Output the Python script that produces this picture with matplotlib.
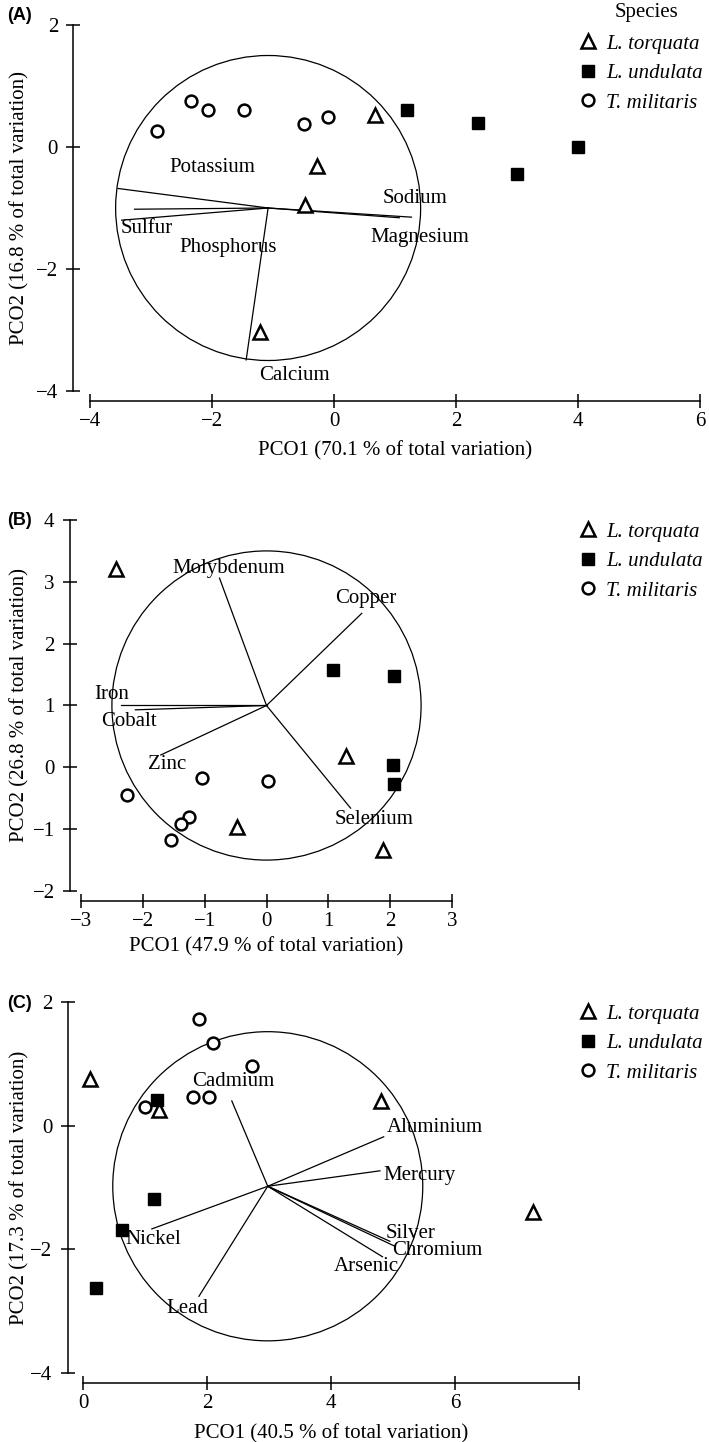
import matplotlib.pyplot as plt
from matplotlib.patches import Circle

plt.rcParams['font.family'] = ['Liberation Serif', 'DejaVu Serif']
plt.rcParams['font.size'] = 15
plt.rcParams['axes.unicode_minus'] = True

W, H = 709, 1442
FS = 15

species = ['L. torquata', 'L. undulata', 'T. militaris']

# ---- panel A : macro elements
a_lt_x = [0.68, -0.28, -0.47, -1.22]
a_lt_y = [0.53, -0.31, -0.95, -3.04]
a_lu_x = [1.19, 2.36, 4.0, 3.0]
a_lu_y = [0.60, 0.39, 0.0, -0.45]
a_tm_x = [-2.90, -2.35, -2.06, -1.47, -0.50, -0.10]
a_tm_y = [0.26, 0.75, 0.61, 0.60, 0.38, 0.50]
a_center = (-1.08, -1.0)
a_vec_names = ['Potassium', 'Phosphorus', 'Sulfur', 'Calcium', 'Sodium', 'Magnesium']
a_vec_x = [-3.54, -3.27, -3.48, -1.44, 1.27, 1.07]
a_vec_y = [-0.68, -1.02, -1.20, -3.49, -1.15, -1.16]

# ---- panel B : trace elements
b_lt_x = [-2.44, 1.29, -0.47, 1.88]
b_lt_y = [3.20, 0.18, -0.96, -1.34]
b_lu_x = [1.08, 2.07, 2.04, 2.06]
b_lu_y = [1.58, 1.48, 0.04, -0.27]
b_tm_x = [-2.25, -1.05, 0.02, -1.26, -1.38, -1.54]
b_tm_y = [-0.44, -0.18, -0.22, -0.80, -0.92, -1.18]
b_center = (0.0, 1.0)
b_vec_names = ['Molybdenum', 'Copper', 'Iron', 'Cobalt', 'Zinc', 'Selenium']
b_vec_x = [-0.76, 1.54, -2.36, -2.12, -1.71, 1.36]
b_vec_y = [3.06, 2.49, 1.0, 0.93, 0.20, -0.66]

# ---- panel C : heavy metals
c_lt_x = [0.12, 1.22, 4.81, 7.25]
c_lt_y = [0.76, 0.25, 0.40, -1.40]
c_lu_x = [1.20, 1.14, 0.63, 0.21]
c_lu_y = [0.41, -1.18, -1.68, -2.63]
c_tm_x = [1.87, 2.09, 2.73, 1.78, 2.03, 1.00]
c_tm_y = [1.72, 1.33, 0.97, 0.47, 0.46, 0.30]
c_center = (2.98, -0.98)
c_vec_names = ['Cadmium', 'Aluminium', 'Mercury', 'Silver', 'Chromium', 'Arsenic', 'Nickel', 'Lead']
c_vec_x = [2.40, 4.85, 4.79, 4.95, 5.03, 4.83, 1.11, 1.87]
c_vec_y = [0.40, -0.18, -0.73, -1.87, -1.95, -2.12, -1.67, -2.76]

# label positions (data coords) for the vector names
a_lab = [(-1.99, -0.34), (-1.74, -1.64), (-3.07, -1.34), (-0.65, -3.74), (1.33, -0.84), (1.41, -1.49)]
b_lab = [(-0.61, 3.21), (1.60, 2.73), (-2.51, 1.17), (-2.23, 0.74), (-1.61, 0.05), (1.74, -0.84)]
c_lab = [(2.43, 0.71), (5.68, -0.03), (5.43, -0.80), (5.28, -1.74), (5.72, -2.02),
         (4.57, -2.28), (1.13, -1.84), (1.69, -2.95)]

fig = plt.figure(figsize=(W / 100, H / 100), dpi=100)


def make_axes(left, top, right, bottom):
    return fig.add_axes([left / W, 1 - bottom / H, (right - left) / W, (bottom - top) / H])


def panel(ax, lt, lu, tm, center, names, vx, vy, labs, xlim, ylim, xticks, yticks,
          xlab, ylab, letter, letter_y, legend_top, xlab_top, xticklabels=None, yoff=8, xoff=6):
    ax.add_patch(Circle(center, 2.5, fill=False, ec='black', lw=0.9))
    for nm, ex, ey, (lx, ly) in zip(names, vx, vy, labs):
        ax.plot([center[0], ex], [center[1], ey], color='black', lw=0.9)
        ax.text(lx, ly, nm, ha='center', va='center', fontsize=FS)
    h1, = ax.plot(lt[0], lt[1], '^', ms=9.5, mfc='white', mec='black', mew=1.8,
                  ls='none', clip_on=False)
    h2, = ax.plot(lu[0], lu[1], 's', ms=8, mfc='black', mec='black', ls='none', clip_on=False)
    h3, = ax.plot(tm[0], tm[1], 'o', ms=8.5, mfc='white', mec='black', mew=1.8,
                  ls='none', clip_on=False)
    ax.set_xlim(*xlim)
    ax.set_ylim(*ylim)
    ax.set_xticks(xticks)
    ax.set_yticks(yticks)
    if xticklabels is not None:
        ax.set_xticklabels(xticklabels)
    for s in ['top', 'right']:
        ax.spines[s].set_visible(False)
    ax.spines['left'].set_position(('outward', yoff))
    ax.spines['bottom'].set_position(('outward', xoff))
    ax.spines['left'].set_bounds(*ylim)
    ax.spines['bottom'].set_bounds(*xlim)
    for s in ['left', 'bottom']:
        ax.spines[s].set_linewidth(1.1)
    ax.tick_params(direction='inout', length=10, width=1.1, labelsize=FS, pad=6)
    ax.tick_params(axis='x', pad=3)
    ax.set_facecolor('none')
    ax.set_xlabel(xlab, fontsize=FS)
    ax.set_ylabel(ylab, fontsize=FS)
    pos = ax.get_position()
    ax.xaxis.set_label_coords((pos.x0 + pos.x1) / 2, 1 - xlab_top / H, transform=fig.transFigure)
    ax.yaxis.set_label_coords(29 / W, (pos.y0 + pos.y1) / 2, transform=fig.transFigure)
    fig.text(20 / W, 1 - letter_y / H, letter, fontsize=13, fontweight='bold',
             family='Liberation Sans', ha='center', va='center')
    ax.legend([h1, h2, h3], species, loc='upper left',
              bbox_to_anchor=(579 / W, 1 - legend_top / H), bbox_transform=fig.transFigure,
              frameon=False, numpoints=1, handlelength=0.9, handletextpad=0.4,
              labelspacing=0.48, borderpad=0, borderaxespad=0,
              prop={'family': 'Liberation Serif', 'style': 'italic', 'size': FS})
    return ax


axA = make_axes(90, 25, 700, 391)
panel(axA, (a_lt_x, a_lt_y), (a_lu_x, a_lu_y), (a_tm_x, a_tm_y), a_center,
      a_vec_names, a_vec_x, a_vec_y, a_lab, (-4, 6), (-4, 2),
      [-4, -2, 0, 2, 4, 6], [-4, -2, 0, 2],
      'PCO1 (70.1 % of total variation)', 'PCO2 (16.8 % of total variation)',
      '(A)', 15, 34, 441, yoff=12, xoff=7)
fig.text(646 / W, 1 - 12 / H, 'Species', fontsize=FS, ha='center', va='center')

axB = make_axes(81, 520, 452, 891)
panel(axB, (b_lt_x, b_lt_y), (b_lu_x, b_lu_y), (b_tm_x, b_tm_y), b_center,
      b_vec_names, b_vec_x, b_vec_y, b_lab, (-3, 3), (-2, 4),
      [-3, -2, -1, 0, 1, 2, 3], [-2, -1, 0, 1, 2, 3, 4],
      'PCO1 (47.9 % of total variation)', 'PCO2 (26.8 % of total variation)',
      '(B)', 520, 522, 937, yoff=8, xoff=7)

axC = make_axes(83, 1002, 579, 1373)
panel(axC, (c_lt_x, c_lt_y), (c_lu_x, c_lu_y), (c_tm_x, c_tm_y), c_center,
      c_vec_names, c_vec_x, c_vec_y, c_lab, (0, 8), (-4, 2),
      [0, 2, 4, 6, 8], [-4, -2, 0, 2],
      'PCO1 (40.5 % of total variation)', 'PCO2 (17.3 % of total variation)',
      '(C)', 1003, 1004, 1424, xticklabels=['0', '2', '4', '6', ''], yoff=11, xoff=7)

fig.savefig('out.png', dpi=100)
